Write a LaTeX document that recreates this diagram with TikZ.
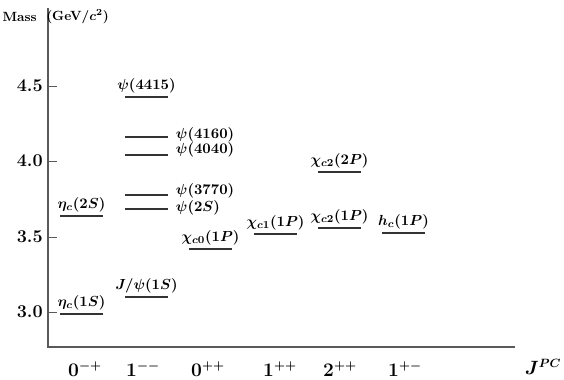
\documentclass[tikz,border=0pt]{standalone}
\usepackage{amsmath}
\usetikzlibrary{calc}
\begin{document}
\begin{tikzpicture}[x=0.75pt,y=-0.75pt,
  axisline/.style={line width=0.9pt, draw=black!65},
  tickline/.style={line width=0.7pt, draw=black!65},
  lvl/.style={line width=1.1pt, draw=black!80},
  lab/.style={font=\fontsize{11.2}{13}\selectfont\boldmath, inner sep=0.5pt},
  above lab/.style={lab, anchor=south},
  right lab/.style={lab, anchor=west},
  big/.style={font=\fontsize{13.5}{16}\selectfont\boldmath\bfseries, inner sep=0pt},
  small/.style={font=\fontsize{10}{11}\selectfont\boldmath\bfseries, inner sep=0pt}]
\useasboundingbox (0,0) rectangle (564,379);
% axes
\coordinate (otop) at (48,8);
\coordinate (orig) at (48,347);
\coordinate (xend) at (515,347);
\draw[axisline] (otop) -- (orig) -- (xend);
\node[small, anchor=east] (mass) at (37,17) {Mass};
\node[small, anchor=west] (unit) at (46,17) {(GeV/$c^2$)};
% ticks
\foreach \v/\y/\n in {4.5/86/a, 4.0/161/b, 3.5/237/c, 3.0/312/d}{
  \coordinate (t\n a) at (48,\y);
  \coordinate (t\n b) at (57,\y);
  \draw[tickline] (t\n a) -- (t\n b);
  \node[big, anchor=east] (tl\n) at (43,\y) {\v};
}
% x labels
\node[big] (c1) at (85,369) {$0^{-+}$};
\node[big] (c2) at (143,369) {$1^{--}$};
\node[big] (c3) at (208,369) {$0^{++}$};
\node[big] (c4) at (280,369) {$1^{++}$};
\node[big] (c5) at (340,369) {$2^{++}$};
\node[big] (c6) at (405,369) {$1^{+-}$};
\node[big] (jpc) at (543,367) {$J^{PC}$};
% levels with label above
\foreach \n/\xa/\xb/\y/\t in {
  e1/60/103/314/{\eta_c(1S)},
  e2/60/103/216/{\eta_c(2S)},
  jp/125/168/297/{J/\psi(1S)},
  p4415/125/168/97/{\psi(4415)},
  x0/189/232/249/{\chi_{c0}(1P)},
  x1/254/297/234/{\chi_{c1}(1P)},
  x2/318/361/228/{\chi_{c2}(1P)},
  x2p/318/361/172/{\chi_{c2}(2P)},
  hc/382/425/233/{h_c(1P)}}{
  \coordinate (\n a) at (\xa,\y);
  \coordinate (\n b) at (\xb,\y);
  \draw[lvl] (\n a) -- (\n b);
  \node[above lab] (\n) at ($(\n a)!0.5!(\n b)+(0,-3)$) {$\t$};
}
% levels with label at right
\foreach \n/\y/\ly/\t in {
  p2S/209/208/{\psi(2S)},
  p3770/195/191/{\psi(3770)},
  p4040/155/150/{\psi(4040)},
  p4160/137/135/{\psi(4160)}}{
  \coordinate (\n a) at (125,\y);
  \coordinate (\n b) at (168,\y);
  \draw[lvl] (\n a) -- (\n b);
  \node[right lab] (\n) at (175,\ly) {$\t$};
}
\end{tikzpicture}
\end{document}
